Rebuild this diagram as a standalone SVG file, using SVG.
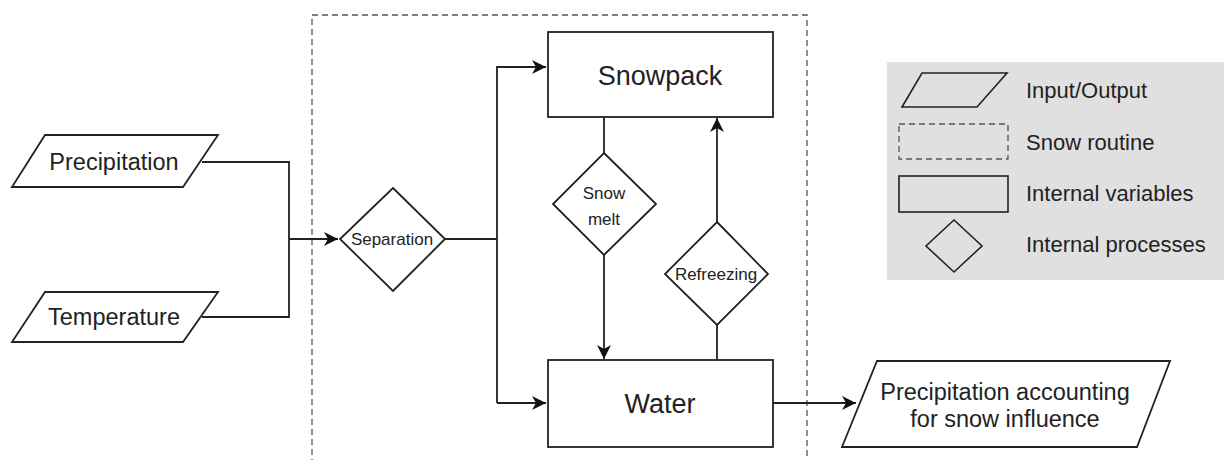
<svg xmlns="http://www.w3.org/2000/svg" width="1224" height="460" viewBox="0 0 1224 460">
<style>
.s{fill:#fff;stroke:#222;stroke-width:1.8}
.l{fill:none;stroke:#222;stroke-width:1.8}
.d{fill:none;stroke:#555;stroke-width:1.3;stroke-dasharray:6 4}
text{font-family:"Liberation Sans",Arial,sans-serif;fill:#222;text-anchor:middle}
.big{font-size:27px}
.med{font-size:23.5px}
.sm{font-size:17px}
.lg{font-size:22px;text-anchor:start}
</style>
<defs>
<marker id="arr" markerUnits="userSpaceOnUse" markerWidth="16" markerHeight="14" refX="14" refY="7" orient="auto">
<path d="M0,0 L14,7 L0,14 L4,7 Z" fill="#111"/>
</marker>
</defs>
<g id="routine"><rect class="d" x="312" y="15" width="495" height="470"/></g>
<g id="connectors">
<path class="l" d="M202,162 H289 V317 H202"/>
<path class="l" d="M289,239 H338" marker-end="url(#arr)"/>
<path class="l" d="M445,239 H497"/>
<path class="l" d="M497,403 V67 H546" marker-end="url(#arr)"/>
<path class="l" d="M497,403 H546" marker-end="url(#arr)"/>
<path class="l" d="M604,117 V153"/>
<path class="l" d="M604,255 V359" marker-end="url(#arr)"/>
<path class="l" d="M717,360 V325"/>
<path class="l" d="M717,222 V118" marker-end="url(#arr)"/>
<path class="l" d="M773,403 H856" marker-end="url(#arr)"/>
</g>
<g id="precipitation"><polygon class="s" points="45,135 218,135 183,187 12,187"/><text class="med" x="114" y="170">Precipitation</text></g>
<g id="temperature"><polygon class="s" points="45,292 218,292 183,342 12,342"/><text class="med" x="114" y="325">Temperature</text></g>
<g id="separation"><polygon class="s" points="393,188 445,239 393,291 340,239"/><text class="sm" x="392" y="245">Separation</text></g>
<g id="snowpack"><rect class="s" x="548" y="32" width="225" height="85"/><text class="big" x="660" y="85">Snowpack</text></g>
<g id="snowmelt"><polygon class="s" points="604,153 656,204 604,255 553,204"/><text class="sm" x="604" y="199">Snow</text><text class="sm" x="604" y="225">melt</text></g>
<g id="refreezing"><polygon class="s" points="717,222 768,274 717,325 665,274"/><text class="sm" x="716" y="280">Refreezing</text></g>
<g id="water"><rect class="s" x="548" y="360" width="225" height="87"/><text class="big" x="660" y="413">Water</text></g>
<g id="output"><polygon class="s" points="877,361 1170,361 1137,447 842,447"/><text class="med" x="1005" y="400">Precipitation accounting</text><text class="med" x="1005" y="427">for snow influence</text></g>
<g id="legend">
<rect x="887" y="62" width="340" height="218" fill="#e0e0e0"/>
<polygon fill="none" stroke="#222" stroke-width="1.6" points="922,73 1007,73 977,107 902,107"/>
<rect class="d" x="899" y="124" width="109" height="35"/>
<rect fill="none" stroke="#222" stroke-width="1.6" x="899" y="176" width="109" height="36"/>
<polygon fill="none" stroke="#222" stroke-width="1.6" points="954,220 982,246 954,272 926,246"/>
<text class="lg" x="1026" y="98">Input/Output</text>
<text class="lg" x="1026" y="150">Snow routine</text>
<text class="lg" x="1026" y="201">Internal variables</text>
<text class="lg" x="1026" y="252">Internal processes</text>
</g>
</svg>
